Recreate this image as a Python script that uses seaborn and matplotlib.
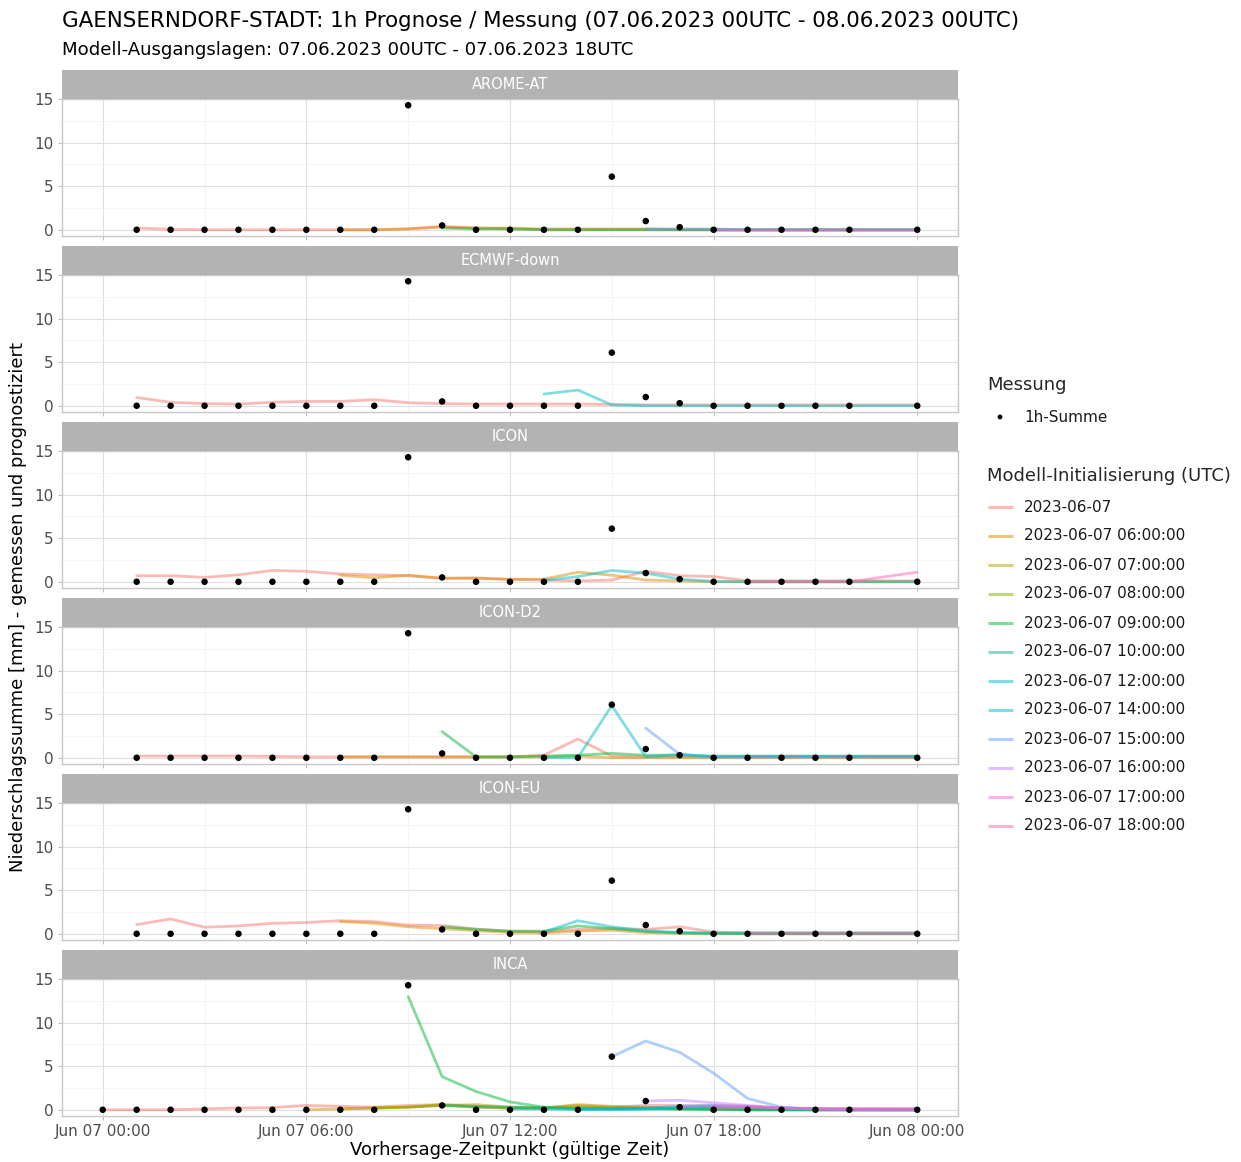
import numpy as np
import pandas as pd
import matplotlib
matplotlib.use("Agg")
import matplotlib.pyplot as plt
import matplotlib.dates as mdates
import seaborn as sns

sns.set_theme(style="white")
plt.rcParams["font.family"] = ["DejaVu Sans"]

# ---------------------------------------------------------------- data
START = pd.Timestamp("2023-06-07 00:00")

MODELLE = ["AROME-AT", "ECMWF-down", "ICON", "ICON-D2", "ICON-EU", "INCA"]

INIT_STUNDEN = [0, 6, 7, 8, 9, 10, 12, 14, 15, 16, 17, 18]
INIT_LABELS = ["2023-06-07", "2023-06-07 06:00:00", "2023-06-07 07:00:00",
               "2023-06-07 08:00:00", "2023-06-07 09:00:00", "2023-06-07 10:00:00",
               "2023-06-07 12:00:00", "2023-06-07 14:00:00", "2023-06-07 15:00:00",
               "2023-06-07 16:00:00", "2023-06-07 17:00:00", "2023-06-07 18:00:00"]
INIT_FARBEN = ["#F8766D", "#DE8C00", "#B79F00", "#7CAE00", "#00BA38", "#00C08B",
               "#00BFC4", "#00B4F0", "#619CFF", "#C77CFF", "#F564E3", "#FF64B0"]

# measured 1h sums, hours 0..24 (23 UTC missing)
MESS_STUNDEN = list(range(0, 25))
MESS_WERTE = [0.0, 0.0, 0.0, 0.0, 0.0, 0.0, 0.0, 0.0, 0.0, 14.3, 0.5, 0.0, 0.0,
              0.0, 0.0, 6.1, 1.0, 0.3, 0.0, 0.0, 0.0, 0.0, 0.0, np.nan, 0.0]

# forecasts: init hour -> hourly values up to 24 UTC
AROME_AT = {
    0: [0.2, 0.05, 0.0, 0.0, 0.0, 0.0, 0.0, 0.0, 0.1, 0.4, 0.2, 0.1,
        0.0, 0.0, 0.0, 0.0, 0.0, 0.0, 0.0, 0.0, 0.0, 0.0, 0.0, 0.0],
    6: [0.0, 0.0, 0.1, 0.3, 0.2, 0.2, 0.1, 0.1, 0.1, 0.1, 0.0, 0.0,
        0.0, 0.0, 0.0, 0.0, 0.0, 0.0],
    9: [0.2, 0.1, 0.1, 0.0, 0.0, 0.0, 0.0, 0.0, 0.0, 0.0, 0.0, 0.0,
        0.0, 0.0, 0.0],
    15: [0.1, 0.1, 0.1, 0.0, 0.0, 0.0, 0.0, 0.0, 0.0],
    17: [0.0, 0.0, 0.0, 0.0, 0.0, 0.0, 0.0],
}
ECMWF_DOWN = {
    0: [0.95, 0.4, 0.25, 0.2, 0.4, 0.5, 0.5, 0.7, 0.35, 0.25, 0.2, 0.2,
        0.2, 0.2, 0.15, 0.1, 0.1, 0.1, 0.1, 0.1, 0.1, 0.1, 0.1, 0.1],
    12: [1.35, 1.8, 0.1, 0.0, 0.0, 0.0, 0.0, 0.0, 0.0, 0.0, 0.0, 0.0],
}
ICON = {
    0: [0.7, 0.7, 0.5, 0.8, 1.3, 1.2, 0.9, 0.8, 0.7, 0.4, 0.4, 0.3,
        0.2, 0.1, 0.2, 1.2, 0.7, 0.6, 0.1, 0.1, 0.1, 0.1, 0.1, 0.1],
    6: [0.75, 0.45, 0.75, 0.4, 0.45, 0.25, 0.3, 1.1, 0.75, 0.2, 0.1, 0.0,
        0.0, 0.0, 0.0, 0.0, 0.0, 0.0],
    12: [0.15, 0.6, 1.3, 1.0, 0.3, 0.05, 0.0, 0.0, 0.0, 0.0, 0.0, 0.0],
    18: [0.0, 0.0, 0.0, 0.0, 0.55, 1.1],
}
ICON_D2 = {
    0: [0.2, 0.2, 0.2, 0.2, 0.15, 0.1, 0.1, 0.1, 0.1, 0.1, 0.1, 0.1,
        0.3, 2.15, 0.2, 0.1, 0.1, 0.1, 0.1, 0.1, 0.1, 0.1, 0.1, 0.1],
    6: [0.1, 0.1, 0.1, 0.1, 0.1, 0.1, 0.1, 0.2, 0.0, 0.0, 0.0, 0.0,
        0.0, 0.0, 0.0, 0.0, 0.0, 0.0],
    9: [3.0, 0.1, 0.1, 0.2, 0.3, 0.5, 0.3, 0.3, 0.2, 0.2, 0.2, 0.2,
        0.2, 0.2, 0.2],
    12: [0.0, 0.0, 6.0, 0.1, 0.4, 0.1, 0.15, 0.15, 0.15, 0.15, 0.15, 0.15],
    15: [3.4, 0.4, 0.1, 0.1, 0.1, 0.1, 0.1, 0.1, 0.1],
}
ICON_EU = {
    0: [1.05, 1.7, 0.75, 0.9, 1.2, 1.3, 1.5, 1.4, 1.0, 0.95, 0.55, 0.3,
        0.2, 0.5, 0.6, 0.5, 0.8, 0.2, 0.1, 0.1, 0.1, 0.1, 0.1, 0.1],
    6: [1.4, 1.2, 0.8, 0.6, 0.35, 0.15, 0.1, 0.3, 0.4, 0.15, 0.05, 0.0,
        0.0, 0.0, 0.0, 0.0, 0.0, 0.0],
    9: [0.8, 0.5, 0.3, 0.3, 0.9, 0.6, 0.25, 0.1, 0.05, 0.0, 0.0, 0.0,
        0.0, 0.0, 0.0],
    12: [0.2, 1.5, 0.8, 0.35, 0.15, 0.1, 0.1, 0.1, 0.1, 0.1, 0.1, 0.1],
    18: [0.05, 0.05, 0.05, 0.05, 0.05, 0.05],
}
# INCA nowcasts start at their own init hour
INCA = {
    0: [0.0, 0.0, 0.0, 0.1, 0.2, 0.25, 0.5, 0.4, 0.3, 0.5, 0.6, 0.3, 0.2,
        0.2, 0.3, 0.3, 0.5, 0.5, 0.4, 0.2, 0.1, 0.1, 0.1, 0.1, 0.1],
    6: [0.0, 0.1, 0.2, 0.3, 0.5, 0.6, 0.3, 0.2, 0.6, 0.4, 0.3, 0.2, 0.2,
        0.1, 0.1, 0.0, 0.0, 0.0, 0.0],
    7: [0.1, 0.2, 0.3, 0.6, 0.4, 0.2, 0.2, 0.5, 0.3, 0.2, 0.1, 0.1, 0.0,
        0.0, 0.0, 0.0, 0.0, 0.0],
    8: [0.2, 0.3, 0.5, 0.3, 0.2, 0.2, 0.3, 0.2, 0.2, 0.1, 0.1, 0.0, 0.0,
        0.0, 0.0, 0.0, 0.0],
    9: [13.0, 3.8, 2.1, 0.9, 0.3, 0.1, 0.1, 0.1, 0.1, 0.1, 0.0, 0.0, 0.0,
        0.0, 0.0, 0.0],
    10: [0.5, 0.4, 0.3, 0.2, 0.1, 0.1, 0.1, 0.1, 0.0, 0.0, 0.0, 0.0, 0.0,
         0.0, 0.0],
    12: [0.1, 0.1, 0.0, 0.0, 0.1, 0.2, 0.3, 0.2, 0.1, 0.0, 0.0, 0.0, 0.0],
    14: [0.1, 0.1, 0.2, 0.4, 0.5, 0.4, 0.2, 0.1, 0.0, 0.0, 0.0],
    15: [6.1, 7.9, 6.6, 4.2, 1.3, 0.3, 0.1, 0.1, 0.0, 0.0],
    16: [1.0, 1.1, 0.8, 0.5, 0.2, 0.1, 0.0, 0.0, 0.0],
    17: [0.3, 0.5, 0.4, 0.2, 0.1, 0.1, 0.1, 0.1],
    18: [0.2, 0.3, 0.2, 0.1, 0.1, 0.1, 0.1],
}

PROGNOSEN = {"AROME-AT": AROME_AT, "ECMWF-down": ECMWF_DOWN, "ICON": ICON,
             "ICON-D2": ICON_D2, "ICON-EU": ICON_EU, "INCA": INCA}
ERSTE_STUNDE = {"AROME-AT": 1, "ECMWF-down": 1, "ICON": 1, "ICON-D2": 1,
                "ICON-EU": 1, "INCA": 0}

# ---------------------------------------------------------------- tidy frames
label_of = dict(zip(INIT_STUNDEN, INIT_LABELS))
palette = dict(zip(INIT_LABELS, INIT_FARBEN))

rows = []
for modell, runs in PROGNOSEN.items():
    for init, werte in runs.items():
        h0 = init + ERSTE_STUNDE[modell]
        for k, w in enumerate(werte):
            rows.append((modell, label_of[init], START + pd.Timedelta(hours=h0 + k), w))
prog = pd.DataFrame(rows, columns=["modell", "init", "zeit", "wert"])

mess = pd.DataFrame({"zeit": [START + pd.Timedelta(hours=h) for h in MESS_STUNDEN],
                     "stunde": MESS_STUNDEN, "wert": MESS_WERTE})

# ---------------------------------------------------------------- layout
W, H = 1241, 1162
fig = plt.figure(figsize=(W / 100, H / 100), dpi=100)
fig.patch.set_facecolor("white")

def fx(px):
    return px / W

def fy(py):
    return 1 - py / H

P_LEFT, P_RIGHT = 62, 958
STRIP_H, PLOT_H, PITCH, TOP = 29, 137, 176, 70

x_lo = START - pd.Timedelta(minutes=72)
x_hi = START + pd.Timedelta(hours=24, minutes=72)
major_t = [START + pd.Timedelta(hours=h) for h in range(0, 25, 6)]
minor_t = [START + pd.Timedelta(hours=h) for h in range(3, 24, 6)]
TICK_GREY = "#4D4D4D"

for i, modell in enumerate(MODELLE):
    s_top = TOP + PITCH * i
    p_top = s_top + STRIP_H
    ax = fig.add_axes([fx(P_LEFT), fy(p_top + PLOT_H), fx(P_RIGHT - P_LEFT), PLOT_H / H])
    ax.set_facecolor("white")

    sub = prog[prog["modell"] == modell]
    order = [l for l in INIT_LABELS if l in set(sub["init"])]
    sns.lineplot(data=sub, x="zeit", y="wert", hue="init", hue_order=order,
                 palette=palette, alpha=0.5, linewidth=2.0, estimator=None,
                 legend=False, ax=ax, zorder=2)
    m = mess[mess["stunde"] >= ERSTE_STUNDE[modell]]
    sns.scatterplot(data=m, x="zeit", y="wert", color="black", s=22,
                    edgecolor="none", legend=False, ax=ax, zorder=3)

    ax.set_xlim(x_lo, x_hi)
    ax.set_ylim(-0.715, 15.015)
    ax.set_yticks([0, 5, 10, 15])
    ax.set_yticks([2.5, 7.5, 12.5], minor=True)
    ax.set_yticklabels(["0", "5", "10", "15"])
    ax.set_xticks(major_t)
    ax.set_xticks(minor_t, minor=True)
    ax.xaxis.set_major_formatter(mdates.DateFormatter("%b %d %H:%M"))
    ax.grid(which="major", color="#E0E0E0", linewidth=0.8)
    ax.grid(which="minor", color="#F0F0F0", linewidth=0.5)
    ax.set_axisbelow(True)
    for sp in ax.spines.values():
        sp.set_color("#C8C8C8")
        sp.set_linewidth(1.0)
    ax.tick_params(axis="both", which="major", length=3, width=0.6,
                   color="#B3B3B3", labelsize=11, labelcolor=TICK_GREY, pad=3)
    ax.tick_params(axis="both", which="minor", length=0)
    ax.tick_params(axis="y", left=True)
    ax.tick_params(axis="x", bottom=True)
    if i < len(MODELLE) - 1:
        ax.tick_params(axis="x", labelbottom=False)
    ax.set_xlabel("")
    ax.set_ylabel("")

    # facet strip
    sax = fig.add_axes([fx(P_LEFT), fy(p_top), fx(P_RIGHT - P_LEFT), STRIP_H / H])
    sax.set_facecolor("#B3B3B3")
    sax.set_xticks([])
    sax.set_yticks([])
    for sp in sax.spines.values():
        sp.set_visible(False)
    sax.text(0.5, 0.5, modell, color="white", fontsize=10.5,
             ha="center", va="center", transform=sax.transAxes)

# ---------------------------------------------------------------- titles
fig.text(fx(62), fy(21), "GAENSERNDORF-STADT: 1h Prognose / Messung "
         "(07.06.2023 00UTC - 08.06.2023 00UTC)", fontsize=15.4,
         ha="left", va="center", color="black")
fig.text(fx(62), fy(50), "Modell-Ausgangslagen: 07.06.2023 00UTC - 07.06.2023 18UTC",
         fontsize=13.1, ha="left", va="center", color="black")
fig.text(fx(510), fy(1150), "Vorhersage-Zeitpunkt (gültige Zeit)", fontsize=13,
         ha="center", va="center", color="black")
fig.text(fx(18), fy(607), "Niederschlagssumme [mm] - gemessen und prognostiziert",
         fontsize=13, rotation=90, ha="center", va="center", color="black")

# ---------------------------------------------------------------- legend
lax = fig.add_axes([0, 0, 1, 1], facecolor="none")
lax.set_xlim(0, W)
lax.set_ylim(H, 0)
lax.axis("off")

lax.text(987, 385, "Messung", fontsize=13, ha="left", va="center")
lax.scatter([1000], [417], s=12, color="black", edgecolor="none")
lax.text(1024, 417, "1h-Summe", fontsize=11, ha="left", va="center", color="#1A1A1A")

lax.text(987, 476, "Modell-Initialisierung (UTC)", fontsize=13, ha="left", va="center")
for k, (lab, col) in enumerate(zip(INIT_LABELS, INIT_FARBEN)):
    yy = 507 + 29 * k
    lax.plot([988, 1013], [yy, yy], color=col, alpha=0.5, linewidth=2.2,
             solid_capstyle="butt")
    lax.text(1024, yy, lab, fontsize=11, ha="left", va="center", color="#1A1A1A")

fig.savefig("out.png", dpi=100)
